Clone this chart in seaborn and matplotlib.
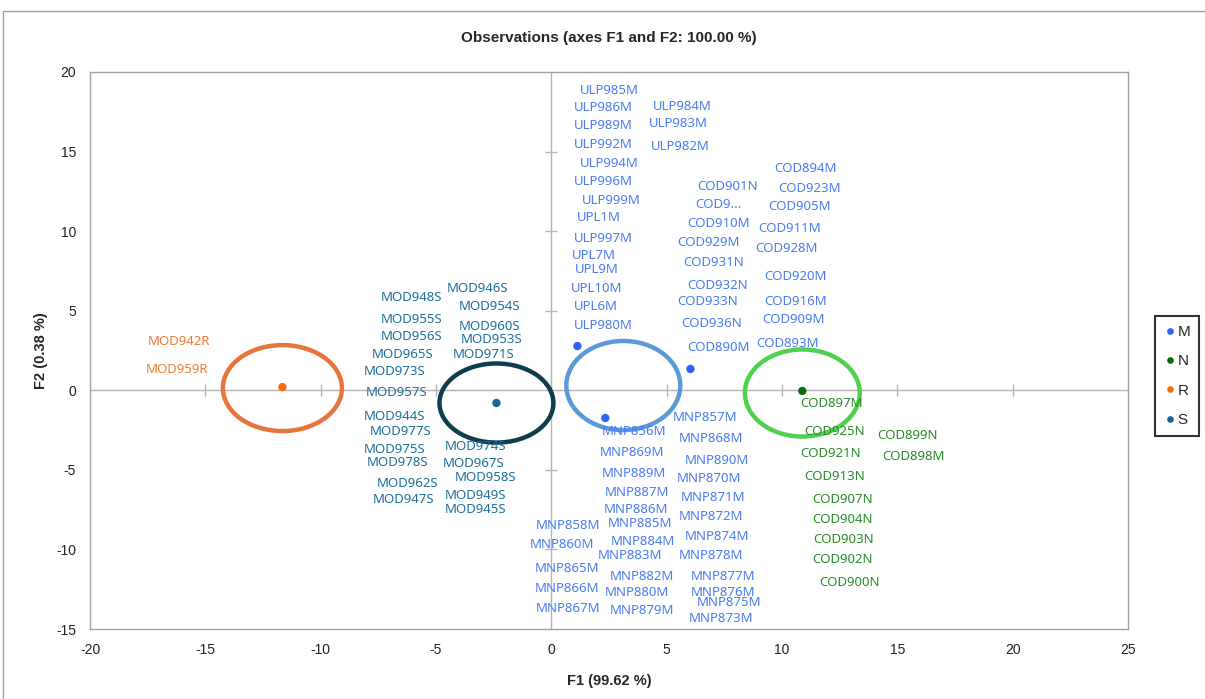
import numpy as np
import pandas as pd
import matplotlib
matplotlib.use("Agg")
import matplotlib.pyplot as plt
from matplotlib.patches import Ellipse, Rectangle
import seaborn as sns

# ---------------- data ----------------
# group centroids (visible dots)
dot_x = [1.13, 6.03, 2.34, 10.88, -11.66, -2.38]
dot_y = [2.78, 1.34, -1.74, -0.04, 0.20, -0.80]
dot_group = ["M", "M", "M", "N", "R", "S"]

# confidence ellipses: center x, center y, width, height
ell_group = ["R", "S", "M", "N"]
ell_cx = [-11.66, -2.38, 3.12, 10.88]
ell_cy = [0.14, -0.80, 0.30, -0.17]
ell_w = [5.16, 4.94, 4.94, 4.98]
ell_h = [5.40, 4.97, 5.60, 5.47]

# observation labels (label positions)
m_labels = ["ULP985M", "ULP986M", "ULP989M", "ULP992M", "ULP994M", "ULP996M", "ULP999M",
            "UPL1M", "ULP997M", "UPL7M", "UPL9M", "UPL10M", "UPL6M", "ULP980M",
            "ULP984M", "ULP983M", "ULP982M",
            "COD894M", "COD901N", "COD923M", "COD9...", "COD905M", "COD910M", "COD911M",
            "COD929M", "COD928M", "COD931N", "COD920M", "COD932N", "COD933N", "COD916M",
            "COD936N", "COD909M", "COD890M", "COD893M",
            "MNP857M", "MNP856M", "MNP868M", "MNP869M", "MNP890M", "MNP889M", "MNP870M",
            "MNP887M", "MNP871M", "MNP886M", "MNP858M", "MNP885M", "MNP872M", "MNP860M",
            "MNP884M", "MNP874M", "MNP883M", "MNP878M", "MNP865M", "MNP882M", "MNP877M",
            "MNP866M", "MNP880M", "MNP876M", "MNP875M", "MNP867M", "MNP879M", "MNP873M"]
m_x = [2.51, 2.25, 2.25, 2.25, 2.51, 2.25, 2.60, 2.04, 2.25, 1.86, 1.95, 1.95, 1.95, 2.25,
       5.68, 5.51, 5.59,
       11.01, 7.63, 11.18, 7.24, 10.75, 7.24, 10.32, 6.81, 10.19, 7.02, 10.58, 7.20, 6.76,
       10.58, 6.94, 10.49, 7.24, 10.23,
       6.68, 3.60, 6.94, 3.51, 7.20, 3.60, 6.85, 3.73, 7.02, 3.68, 0.74, 3.86, 6.94, 0.48,
       3.99, 7.20, 3.42, 6.94, 0.69, 3.94, 7.46, 0.69, 3.73, 7.46, 7.72, 0.74, 3.94, 7.37]
m_y = [18.81, 17.74, 16.61, 15.42, 14.22, 13.09, 11.90, 10.83, 9.51, 8.50, 7.62, 6.37, 5.24, 4.10,
       17.81, 16.74, 15.29,
       13.91, 12.78, 12.65, 11.65, 11.52, 10.51, 10.14, 9.26, 8.88, 8.00, 7.18, 6.56, 5.55,
       5.61, 4.17, 4.42, 2.66, 2.97,
       -1.74, -2.62, -3.00, -3.88, -4.44, -5.20, -5.57, -6.45, -6.71, -7.52, -8.47, -8.40, -7.96,
       -9.66, -9.53, -9.16, -10.41, -10.41, -11.17, -11.67, -11.67, -12.43, -12.68, -12.68,
       -13.31, -13.68, -13.81, -14.31]

n_labels = ["COD897M", "COD925N", "COD899N", "COD921N", "COD898M", "COD913N",
            "COD907N", "COD904N", "COD903N", "COD902N", "COD900N"]
n_x = [12.14, 12.27, 15.43, 12.09, 15.69, 12.27, 12.61, 12.61, 12.66, 12.61, 12.92]
n_y = [-0.86, -2.62, -2.87, -3.94, -4.13, -5.39, -6.83, -8.09, -9.35, -10.60, -12.05]

r_labels = ["MOD942R", "MOD959R"]
r_x = [-16.13, -16.21]
r_y = [3.04, 1.28]

s_labels = ["MOD948S", "MOD946S", "MOD954S", "MOD955S", "MOD960S", "MOD956S", "MOD953S",
            "MOD965S", "MOD971S", "MOD973S", "MOD957S", "MOD944S", "MOD977S", "MOD975S",
            "MOD978S", "MOD974S", "MOD967S", "MOD958S", "MOD962S", "MOD947S", "MOD949S",
            "MOD945S"]
s_x = [-6.07, -3.21, -2.69, -6.07, -2.69, -6.07, -2.60, -6.46, -2.95, -6.81, -6.72, -6.81,
       -6.55, -6.81, -6.68, -3.29, -3.38, -2.86, -6.24, -6.42, -3.29, -3.29]
s_y = [5.86, 6.37, 5.24, 4.48, 3.98, 3.35, 3.22, 2.28, 2.28, 1.15, -0.11, -1.62, -2.56,
       -3.75, -4.51, -3.50, -4.57, -5.45, -5.83, -6.83, -6.64, -7.52]

x_ticks = [-20, -15, -10, -5, 0, 5, 10, 15, 20, 25]
y_ticks = [-15, -10, -5, 0, 5, 10, 15, 20]

# ---------------- style ----------------
dot_colors = {"M": "#2f62f2", "N": "#0b6b12", "R": "#f86a10", "S": "#14699a"}
text_colors = {"M": "#4a7cf2", "N": "#2b8a2b", "R": "#f07a30", "S": "#1f6f9a"}
ell_colors = {"M": "#5a9ad8", "N": "#4fd14f", "R": "#e8743b", "S": "#0f3d50"}

sns.set_theme(style="white")
plt.rcParams["font.family"] = ["Liberation Sans", "DejaVu Sans"]
plt.rcParams["axes.unicode_minus"] = False

fig = plt.figure(figsize=(12.05, 6.99), dpi=100)
ax = fig.add_axes([0.0747, 0.1001, 0.8614, 0.7969])

# outer frame of the picture
fig.patches.append(Rectangle((3 / 1205, -0.1), 1.2, (699 - 11) / 699 + 0.1,
                             transform=fig.transFigure, fill=False,
                             edgecolor="#a0a0a0", linewidth=1.0, zorder=0))

# zero lines with small cross ticks
ax.axhline(0, color="#b4b4b4", lw=1.0, zorder=1)
ax.axvline(0, color="#b4b4b4", lw=1.0, zorder=1)
xt = [t for t in x_ticks if t not in (0, x_ticks[0], x_ticks[-1])]
yt = [t for t in y_ticks if t not in (0, y_ticks[0], y_ticks[-1])]
ax.plot(xt, [0] * len(xt), linestyle="none", marker="|", markersize=8,
        color="#b4b4b4", mew=1.0, zorder=1)
ax.plot([0] * len(yt), yt, linestyle="none", marker="_", markersize=8,
        color="#b4b4b4", mew=1.0, zorder=1)

# ellipses
for g, cx, cy, w, h in zip(ell_group, ell_cx, ell_cy, ell_w, ell_h):
    ax.add_patch(Ellipse((cx, cy), w, h, fill=False, edgecolor=ell_colors[g],
                         linewidth=3.2, zorder=2))

# centroid dots
df = pd.DataFrame({"F1": dot_x, "F2": dot_y, "group": dot_group})
sns.scatterplot(data=df, x="F1", y="F2", hue="group", hue_order=["M", "N", "R", "S"],
                palette=dot_colors, s=36, edgecolor="none", ax=ax, zorder=3, legend=True)

# labels
for labels, xs, ys, g in [(m_labels, m_x, m_y, "M"), (n_labels, n_x, n_y, "N"),
                          (r_labels, r_x, r_y, "R"), (s_labels, s_x, s_y, "S")]:
    for lab, x, y in zip(labels, xs, ys):
        ax.text(x, y, lab, color=text_colors[g], fontsize=9.5, ha="center", va="center",
                family=["Noto Sans", "DejaVu Sans"], zorder=4)

ax.set_xlim(-20, 25)
ax.set_ylim(-15, 20)
ax.set_xticks(x_ticks)
ax.set_yticks(y_ticks)
ax.tick_params(axis="both", length=0, labelsize=10, colors="#222222", pad=10)
for sp in ax.spines.values():
    sp.set_color("#a0a0a0")
    sp.set_linewidth(1.0)

ax.set_xlabel("F1 (99.62 %)", fontsize=10.5, fontweight="bold", labelpad=12)
ax.set_ylabel("F2 (0.38 %)", fontsize=10.5, fontweight="bold", labelpad=6)
fig.text(0.5 * (0.0747 + 0.936), 1 - 38 / 699, "Observations (axes F1 and F2: 100.00 %)",
         ha="center", va="center", fontsize=11, fontweight="bold")

leg = ax.legend(loc="center", bbox_to_anchor=(1177 / 1205, 1 - 376 / 699),
                bbox_transform=fig.transFigure, frameon=True, fontsize=11,
                handletextpad=0.1, handlelength=0.8, labelspacing=1.0,
                borderpad=0.6, fancybox=False, markerscale=0.8)
leg.get_frame().set_edgecolor("black")
leg.get_frame().set_linewidth(1.5)

fig.savefig("out.png", dpi=100)
